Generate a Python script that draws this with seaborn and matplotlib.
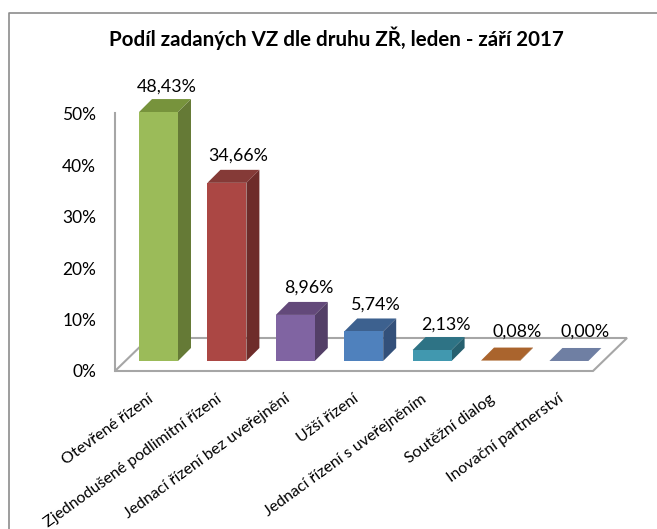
import matplotlib
matplotlib.use("Agg")
import matplotlib.pyplot as plt
import matplotlib.transforms as mtrans
from matplotlib.lines import Line2D
from matplotlib.patches import Polygon
import pandas as pd
import seaborn as sns

# data
druhy = ["Otevřené řízení", "Zjednodušené podlimitní řízení", "Jednací řízení bez uveřejnění",
         "Užší řízení", "Jednací řízení s uveřejněním", "Soutěžní dialog", "Inovační partnerství"]
podil = [48.43, 34.66, 8.96, 5.74, 2.13, 0.08, 0.00]
y_ticks = [0, 10, 20, 30, 40, 50]

front_colors = ["#9bbb59", "#ab4744", "#8064a2", "#4f81bd", "#4198af", "#c0702f", "#7f8fb5"]
top_colors = ["#77933c", "#853a37", "#63497a", "#3d618f", "#2e7385", "#aa642d", "#6f7fa3"]
side_colors = ["#657a36", "#6e2c2a", "#533f67", "#33507a", "#26606f", "#8f5426", "#5d6b8a"]

# popisky nejsou nad sloupci presne stejne, posun v pixelech
label_dx = [8.5, 11, 13.5, 12, 13.5, 17, 16.5]
label_dy = [25, 27, 27, 27, 25, 29, 29]

W, H = 657, 529
PX_Y = 5.14     # pixels per 1 %
PX_X = 68.4     # pixels per category
GREY = "#a6a6a6"

sns.set_style("white")
plt.rcParams["font.family"] = ["Lato", "DejaVu Sans"]

fig = plt.figure(figsize=(W / 100, H / 100), dpi=100)
ax = fig.add_axes([115 / W, (H - 371) / H, 478 / W, 311 / H])

df = pd.DataFrame({"druh": druhy, "podil": podil})
sns.barplot(data=df, x="druh", y="podil", hue="druh", palette=front_colors, saturation=1,
            width=0.57, legend=False, clip_on=False, zorder=5, linewidth=0, ax=ax)

ax.set_xlim((115 - 158.5) / PX_X, (593 - 158.5) / PX_X)
ax.set_ylim(-1.95, 58.56)
ax.set_xlabel("")
ax.set_ylabel("")
ax.patch.set_alpha(0)

# 3D faces built on top of the seaborn bars
bars = list(ax.patches)
dx = 13 / PX_X
dy = 13 / PX_Y
for bar, top_c, side_c in zip(bars, top_colors, side_colors):
    x0, x1 = bar.get_x(), bar.get_x() + bar.get_width()
    h = bar.get_height()
    ax.add_patch(Polygon([(x0, h), (x1, h), (x1 + dx, h + dy), (x0 + dx, h + dy)],
                         facecolor=top_c, edgecolor="none", clip_on=False, zorder=4))
    ax.add_patch(Polygon([(x1, 0), (x1 + dx, dy), (x1 + dx, h + dy), (x1, h)],
                         facecolor=side_c, edgecolor="none", clip_on=False, zorder=4))

# floor
x_l, x_r = ax.get_xlim()
floor_dx = 34 / PX_X
floor_dy = 33 / PX_Y
ax.add_patch(Polygon([(x_l, -1.95), (x_r, -1.95), (x_r + floor_dx, -1.95 + floor_dy),
                      (x_l + floor_dx, -1.95 + floor_dy)],
                     facecolor="white", edgecolor=GREY, linewidth=1.5, clip_on=False, zorder=1))

for bar, value, ldx, ldy in zip(bars, podil, label_dx, label_dy):
    ax.annotate(f"{value:.2f}%".replace(".", ","),
                (bar.get_x() + bar.get_width() / 2, value),
                xytext=(ldx * 0.72, ldy * 0.72), textcoords="offset points",
                ha="center", va="center", fontsize=12.9, color="#000000",
                annotation_clip=False, zorder=6)

for side in ["top", "right", "bottom"]:
    ax.spines[side].set_visible(False)
ax.spines["left"].set_color(GREY)
ax.spines["left"].set_linewidth(1.5)
ax.spines["left"].set_bounds(-1.95, 48.2)

ax.set_yticks(y_ticks)
ax.set_yticklabels([f"{t}%" for t in y_ticks])
ax.tick_params(axis="y", length=0, pad=13.5, labelsize=12.5, labelcolor="black")
ax.tick_params(axis="x", length=0, pad=19, labelsize=11.5, labelcolor="black")

# popisky osy y patri k prednimu okraji podlahy
y_shift = mtrans.ScaledTranslation(0, -10 / 100, fig.dpi_scale_trans)
for label in ax.get_yticklabels():
    label.set_transform(label.get_transform() + y_shift)

x_shift = mtrans.ScaledTranslation(-7 / 100, 0, fig.dpi_scale_trans)
for label in ax.get_xticklabels():
    label.set_rotation(36)
    label.set_rotation_mode("anchor")
    label.set_ha("right")
    label.set_va("center")
    label.set_transform(label.get_transform() + x_shift)

fig.text(336 / W, 1 - 38 / H, "Podíl zadaných VZ dle druhu ZŘ, leden - září 2017",
         ha="center", va="center", fontsize=14.8, fontweight="bold", color="black")

# chart frame, cropped on the right and at the bottom
fig.add_artist(Line2D([9 / W, 9 / W, 1], [0, 1 - 13 / H, 1 - 13 / H], color="#8c8c8c", linewidth=1.2))

fig.savefig("out.png", dpi=100)
plt.close(fig)
